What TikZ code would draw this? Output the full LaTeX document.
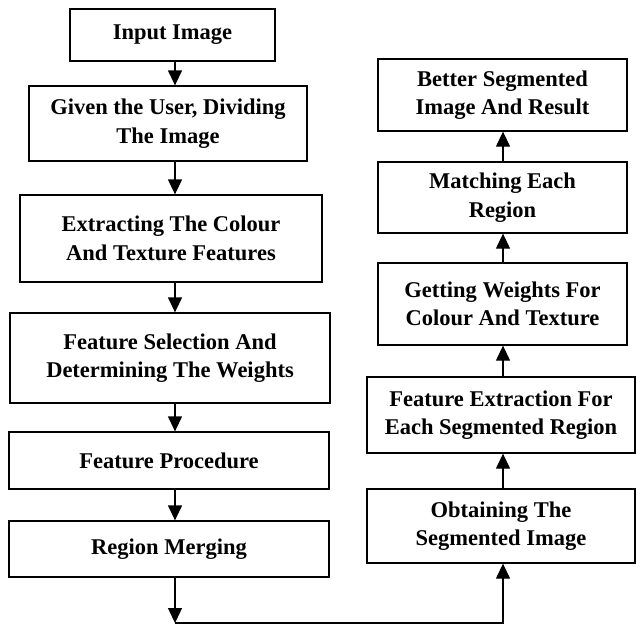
\documentclass[tikz,border=0pt]{standalone}
\usepackage{fontspec}
\setmainfont{Liberation Serif}
\usetikzlibrary{arrows.meta}
\tikzset{
  stage/.style={draw, line width=1.3pt, align=center, inner sep=0pt,
    font=\fontsize{22.5}{28.5}\selectfont\bfseries},
  flow/.style={line width=1.3pt, -{Triangle[length=15pt,width=14pt]}}
}
\begin{document}
\begin{tikzpicture}[x=1pt, y=-1pt]
    	\useasboundingbox (0,0) rectangle (636,625);
    	\coordinate (lspine) at (175,0);
    	\coordinate (rspine) at (503,0);
    	\node[stage, minimum width=205pt, minimum height=52pt] (input) at (172.5,35) {Input Image};
    	\node[stage, minimum width=278pt, minimum height=75pt] (divide) at (168,123.5) {Given the User, Dividing\\The Image};
    	\node[stage, minimum width=302pt, minimum height=87pt] (extract) at (171,238.5) {Extracting The Colour\\And Texture Features};
    	\node[stage, minimum width=320pt, minimum height=90pt] (select) at (170,358) {Feature Selection And\\Determining The Weights};
    	\node[stage, minimum width=320pt, minimum height=57pt] (proc) at (169,460.5) {Feature Procedure};
    	\node[stage, minimum width=320pt, minimum height=56pt] (merge) at (169,549) {Region Merging};
    	\node[stage, minimum width=268pt, minimum height=74pt] (obtain) at (501,526) {Obtaining The\\Segmented Image};
    	\node[stage, minimum width=268pt, minimum height=76pt] (featext) at (501,415) {Feature Extraction For\\Each Segmented Region};
    	\node[stage, minimum width=249pt, minimum height=82pt] (weights) at (502.5,304) {Getting Weights For\\Colour And Texture};
    	\node[stage, minimum width=249pt, minimum height=71pt] (match) at (502.5,197.5) {Matching Each\\Region};
    	\node[stage, minimum width=249pt, minimum height=72pt] (result) at (502.5,95) {Better Segmented\\Image And Result};
    	\coordinate (turnl) at (175,623);
    	\coordinate (turnr) at (503,623);
    	\draw[flow] (input.south -| lspine) -- (divide.north -| lspine);
    	\draw[flow] (divide.south -| lspine) -- (extract.north -| lspine);
    	\draw[flow] (extract.south -| lspine) -- (select.north -| lspine);
    	\draw[flow] (select.south -| lspine) -- (proc.north -| lspine);
    	\draw[flow] (proc.south -| lspine) -- (merge.north -| lspine);
    	\draw[flow] (merge.south -| lspine) -- (turnl);
    	\draw[flow] (turnl) -- (turnr) -- (obtain.south -| rspine);
    	\draw[flow] (obtain.north -| rspine) -- (featext.south -| rspine);
    	\draw[flow] (featext.north -| rspine) -- (weights.south -| rspine);
    	\draw[flow] (weights.north -| rspine) -- (match.south -| rspine);
    	\draw[flow] (match.north -| rspine) -- (result.south -| rspine);
\end{tikzpicture}
\end{document}
